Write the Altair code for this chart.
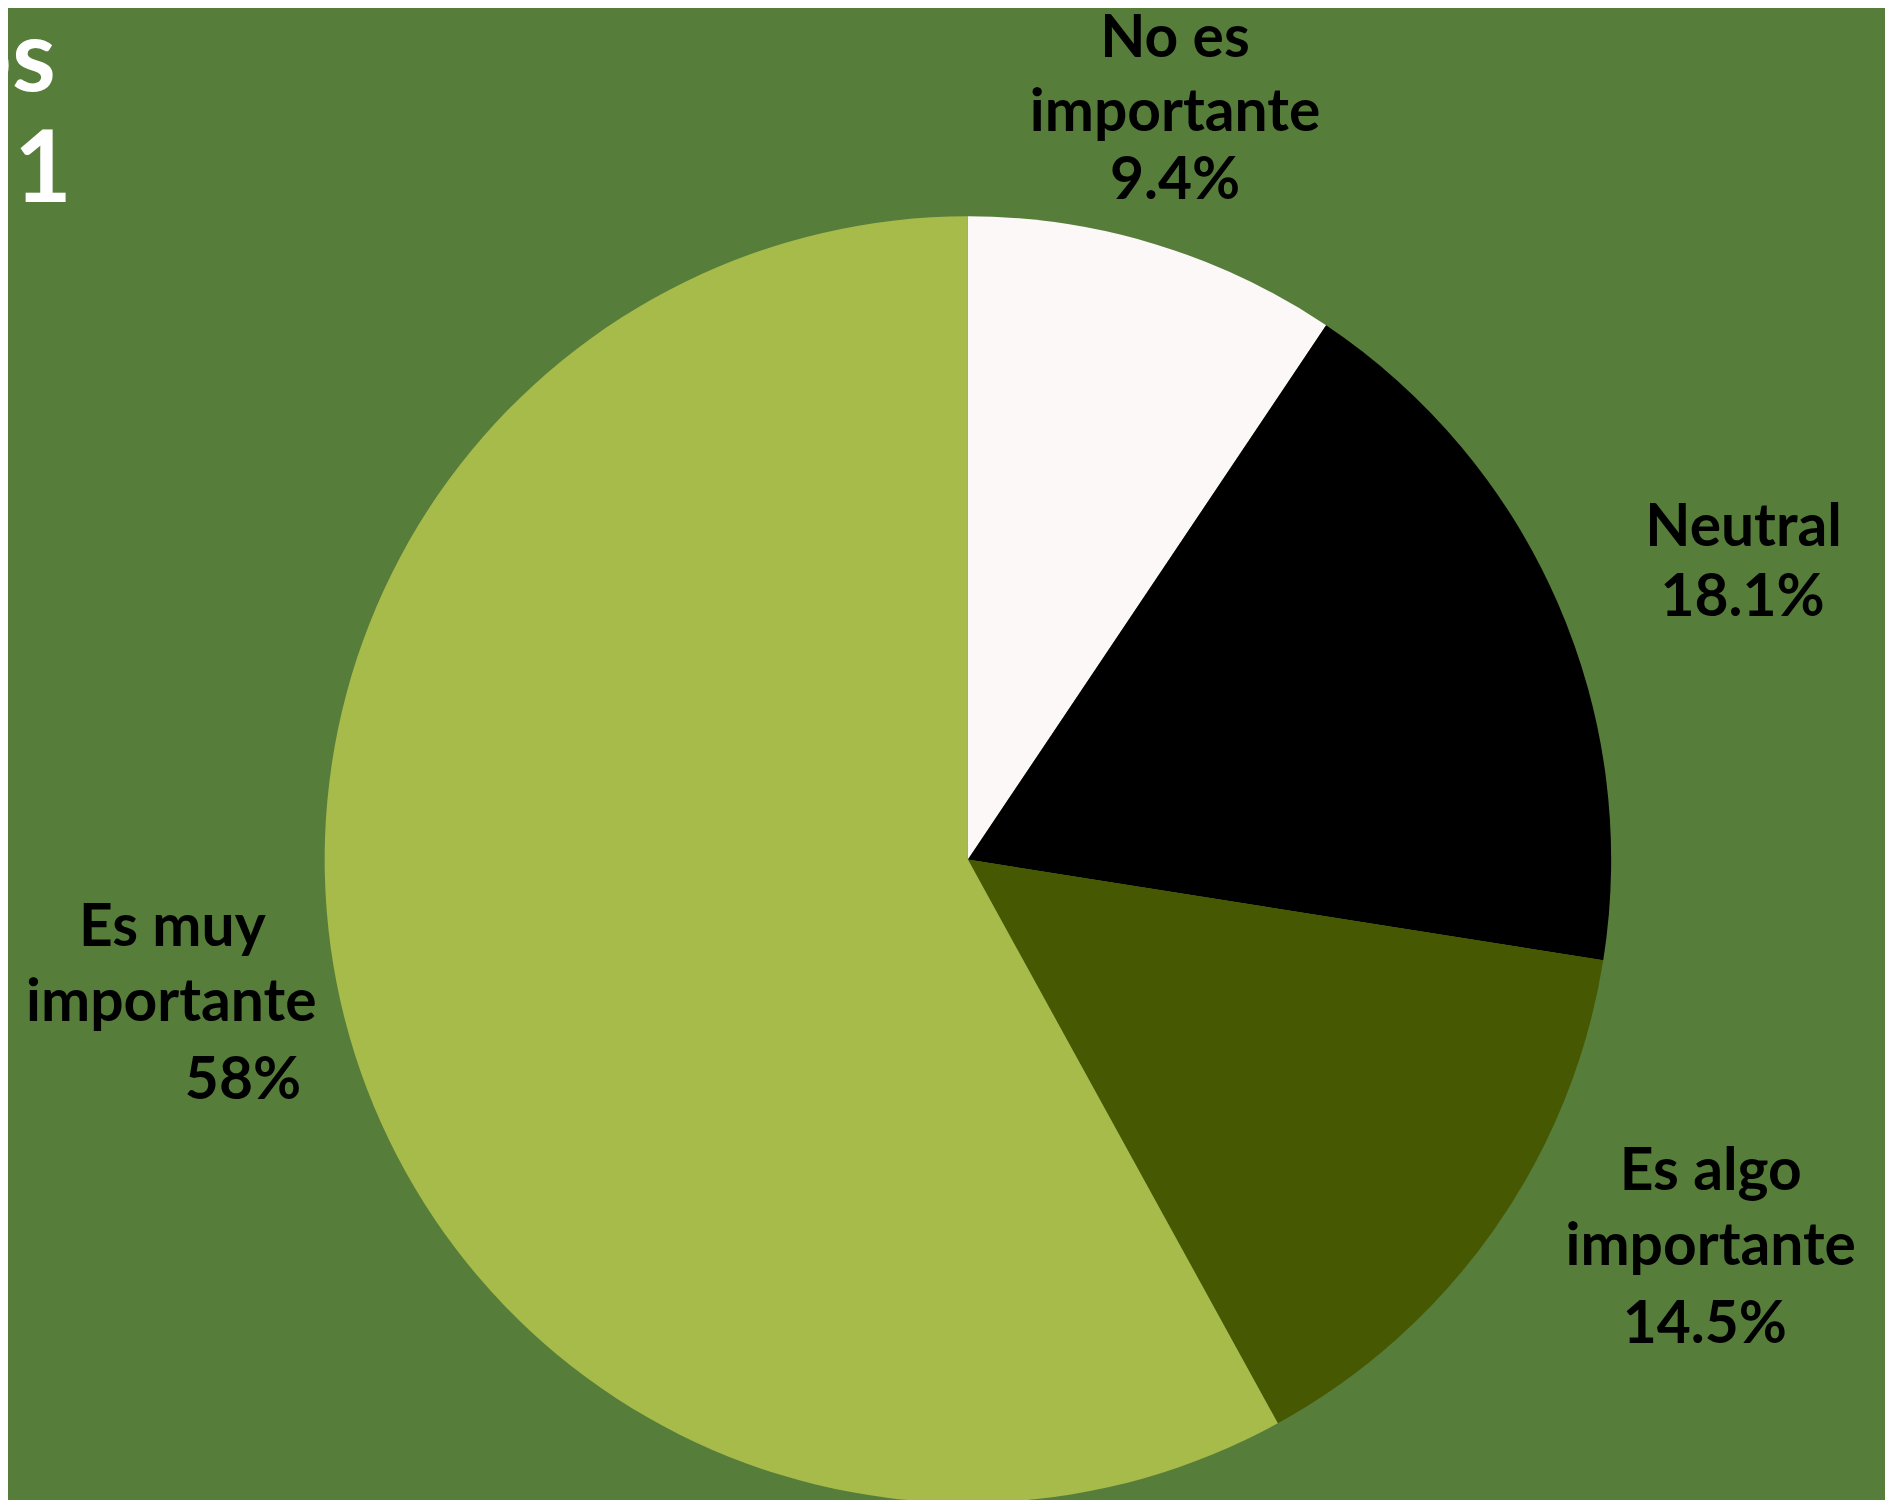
import altair as alt
import pandas as pd

# ---- data ----
categories = ["No es importante", "Neutral", "Es algo importante", "Es muy importante"]
values = [9.4, 18.1, 14.5, 58.0]
value_labels = ["9.4%", "18.1%", "14.5%", "58%"]
colors = ["#fcf8f7", "#000000", "#465801", "#a6bb4a"]

# label line texts (each label broken into lines)
label_lines = [
    ["No es", "importante", "9.4%"],
    ["Neutral", "18.1%"],
    ["Es algo", "importante", "14.5%"],
    ["Es muy", "importante", "58%"],
]

# ---- layout (pixels in chart coords) ----
W, H = 1885, 1492
CX, CY, R = 964, 852, 646
label_pos = [
    [(1172, 28), (1172, 102), (1172, 171)],
    [(1743, 519), (1742, 589)],
    [(1710, 1166), (1710, 1241), (1704, 1320)],
    [(165, 921), (164, 996), (236, 1074)],
]
BG = "#577d3b"
FONT = "Lato"

pie_df = pd.DataFrame({"category": categories, "value": values,
                       "order": list(range(len(values)))})

rows = []
for lines, pos in zip(label_lines, label_pos):
    for t, (x, y) in zip(lines, pos):
        rows.append({"text": t, "x": x, "y": y})
lab_df = pd.DataFrame(rows)

pie = alt.Chart(pie_df).mark_arc(outerRadius=R, stroke=None).encode(
    theta=alt.Theta("value:Q", stack=True),
    order=alt.Order("order:Q"),
    color=alt.Color("category:N", scale=alt.Scale(domain=categories, range=colors), legend=None),
    x=alt.value(CX),
    y=alt.value(CY),
)

labels = alt.Chart(lab_df).mark_text(
    font=FONT, fontWeight="bold", fontSize=59, color="#000000",
    align="center", baseline="middle",
).encode(
    x=alt.X("x:Q", scale=None, axis=None),
    y=alt.Y("y:Q", scale=None, axis=None),
    text="text:N",
)

title_df = pd.DataFrame({"text": ["os", "1"], "x": [48, 64], "y": [80, 192]})
title = alt.Chart(title_df).mark_text(
    font=FONT, fontWeight="bold", fontSize=100, color="#ffffff",
    align="right", baseline="alphabetic",
).encode(
    x=alt.X("x:Q", scale=None, axis=None),
    y=alt.Y("y:Q", scale=None, axis=None),
    text="text:N",
)

chart = alt.layer(pie, labels, title).properties(
    width=W, height=H, background=BG, padding=0,
    autosize=alt.AutoSizeParams(type="none"),
).configure_view(stroke=None)

chart.save("out.html", embed_options={"renderer": "svg", "actions": False})
